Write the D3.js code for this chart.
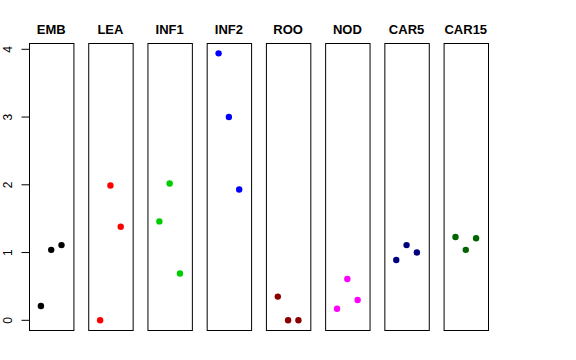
<!DOCTYPE html>
<html>
<head>
<meta charset="utf-8">
<script src="https://cdnjs.cloudflare.com/ajax/libs/d3/7.8.5/d3.min.js"></script>
<style>
  body { margin: 0; background: #fff; }
  text { font-family: "Liberation Sans", Arial, sans-serif; }
</style>
</head>
<body>
<svg></svg>
<script>
var categories = ["EMB", "LEA", "INF1", "INF2", "ROO", "NOD", "CAR5", "CAR15"];
var colors = ["#000000", "#FF0000", "#00CD00", "#0000FF", "#8B0000", "#FF00FF", "#000080", "#006400"];
// three values per category, left to right
var values = [
  [0.21, 1.04, 1.11],
  [0.00, 1.99, 1.38],
  [1.46, 2.02, 0.69],
  [3.94, 3.00, 1.93],
  [0.35, 0.00, 0.00],
  [0.17, 0.61, 0.30],
  [0.89, 1.11, 1.00],
  [1.23, 1.04, 1.21]
];
var yTicks = [0, 1, 2, 3, 4];

var width = 576;
var height = 360;

var svg = d3.select("svg")
              .attr("width", width)
              .attr("height", height);

var x = d3.scaleBand()
            .domain(categories)
            .range([29, 488])
            .paddingInner(0.25)
            .paddingOuter(0);

var y = d3.scaleLinear()
            .domain([0, 4])
            .range([320.3, 49.3]);

var jitter = d3.scalePoint()
                 .domain([0, 1, 2])
                 .range([x.bandwidth() / 2 - 10.3, x.bandwidth() / 2 + 10.3]);

var panels = svg.selectAll(".panel")
  .data(categories)
  .enter()
  .append("g")
    .classed("panel", true)
    .attr("transform", d => "translate(" + x(d) + ",0)");

panels.append("rect")
    .attr("x", 0.5)
    .attr("y", 43.5)
    .attr("width", x.bandwidth())
    .attr("height", 287)
    .attr("fill", "none")
    .attr("stroke", "#000")
    .attr("stroke-width", 1);

panels.append("text")
    .attr("x", x.bandwidth() / 2)
    .attr("y", 34)
    .attr("text-anchor", "middle")
    .style("font-size", "13px")
    .style("font-weight", "bold")
    .text(d => d);

panels.selectAll("circle")
  .data((d, i) => values[i].map((v, j) => ({v: v, j: j, c: colors[i]})))
  .enter()
  .append("circle")
    .attr("cx", d => jitter(d.j))
    .attr("cy", d => y(d.v))
    .attr("r", 3.2)
    .attr("fill", d => d.c);

// y axis on first panel
var axis = svg.append("g")
    .attr("transform", "translate(29.5,0)")
    .call(d3.axisLeft(y).tickValues(yTicks).tickSize(8).tickFormat(d3.format("d")));

axis.select(".domain").remove();
axis.selectAll("line").attr("stroke", "#000");
axis.selectAll("text")
    .attr("x", null)
    .attr("dy", null)
    .attr("transform", d => "translate(-17.5," + y(d) + ") rotate(-90)")
    .attr("y", 0)
    .attr("text-anchor", "middle")
    .style("font-size", "12px")
    .style("font-family", "Liberation Sans, Arial, sans-serif")
    .attr("fill", "#000");
axis.selectAll(".tick").attr("transform", null);
axis.selectAll(".tick line")
    .attr("y1", d => y(d))
    .attr("y2", d => y(d));
</script>
</body>
</html>
